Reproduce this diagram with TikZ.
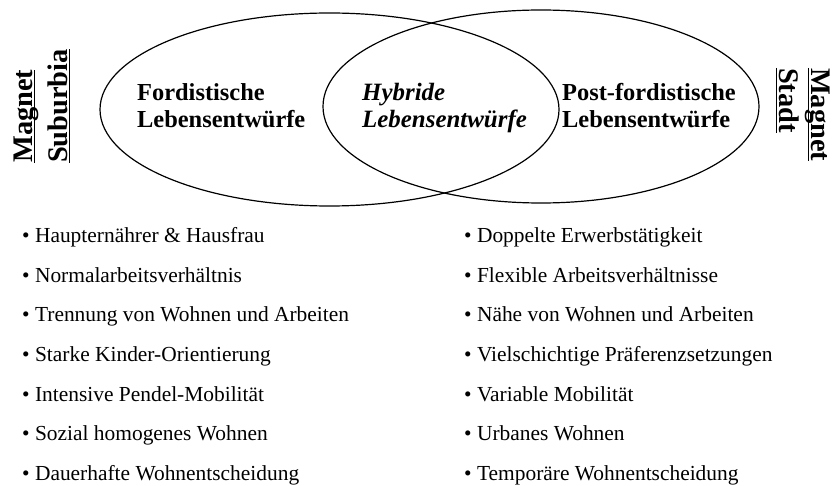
\documentclass[tikz,border=0pt]{standalone}
\usepackage{fontspec}
\setmainfont{Liberation Serif}
\usetikzlibrary{calc}
\begin{document}
\begin{tikzpicture}[x=1bp,y=-1bp,
  venn/.style={line width=1.2bp, draw=black},
  title/.style={font=\fontsize{24.5}{28}\selectfont\bfseries, align=left, anchor=base west, inner sep=0pt},
  magnet/.style={font=\fontsize{28.5}{30}\selectfont\bfseries, anchor=base west, inner sep=0pt},
  uline/.style={line width=1.2bp},
  item/.style={font=\fontsize{21.5}{25}\selectfont, anchor=base west, inner sep=0pt}]
\useasboundingbox (0,0) rectangle (834,486);
\fill[white] (0,0) rectangle (834,486);
% Venn ellipses
\draw[venn] (329.5,109.5) ellipse [x radius=229.5, y radius=96.5];
\draw[venn] (541,106.5) ellipse [x radius=218, y radius=96.5];
% titles (anchored on the baseline of the last line)
\node[title] (ford) at (137,128) {Fordistische\\Lebensentwürfe};
\node[title, font=\fontsize{25}{28}\selectfont\bfseries\itshape] (hyb) at (362,128) {Hybride\\Lebensentwürfe};
\node[title] (post) at (562,128) {Post-fordistische\\Lebensentwürfe};
% magnet labels
\node[magnet, rotate=90] (msa) at (32,163) {Magnet};
\node[magnet, rotate=90] (msb) at (67,163) {Suburbia};
\node[magnet, rotate=-90] (mta) at (811,68) {Magnet};
\node[magnet, rotate=-90] (mtb) at (779,68) {Stadt};
\foreach \n in {msa,msb,mta,mtb}
  \draw[uline] ($(\n.base west)!2.5bp!-90:(\n.base east)$) -- ($(\n.base east)!2.5bp!90:(\n.base west)$);
% left list
\node[item] (l1) at (22,243) {• Haupternährer \& Hausfrau};
\node[item] (l2) at (22,282.5) {• Normalarbeitsverhältnis};
\node[item] (l3) at (22,322) {• Trennung von Wohnen und Arbeiten};
\node[item] (l4) at (22,361.5) {• Starke Kinder-Orientierung};
\node[item] (l5) at (22,401) {• Intensive Pendel-Mobilität};
\node[item] (l6) at (22,440.5) {• Sozial homogenes Wohnen};
\node[item] (l7) at (22,480) {• Dauerhafte Wohnentscheidung};
% right list
\node[item] (r1) at (464,243) {• Doppelte Erwerbstätigkeit};
\node[item] (r2) at (464,282.5) {• Flexible Arbeitsverhältnisse};
\node[item] (r3) at (464,322) {• Nähe von Wohnen und Arbeiten};
\node[item] (r4) at (464,361.5) {• Vielschichtige Präferenzsetzungen};
\node[item] (r5) at (464,401) {• Variable Mobilität};
\node[item] (r6) at (464,440.5) {• Urbanes Wohnen};
\node[item] (r7) at (464,480) {• Temporäre Wohnentscheidung};
\end{tikzpicture}
\end{document}
